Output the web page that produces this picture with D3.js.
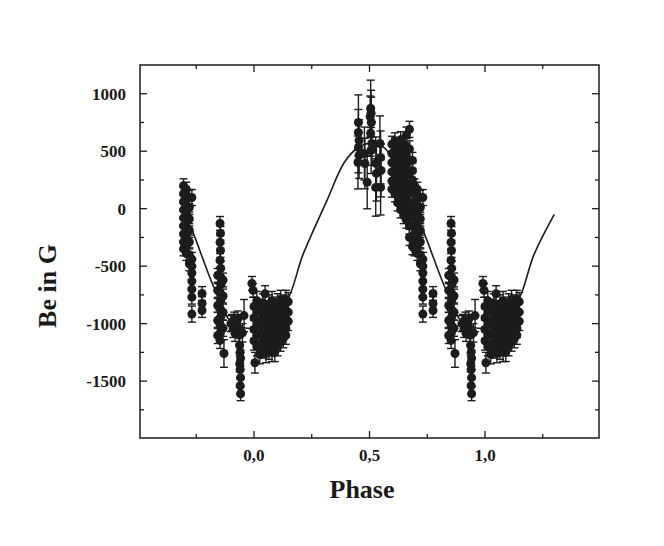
<!DOCTYPE html>
<html>
<head>
<meta charset="utf-8">
<script src="https://cdn.jsdelivr.net/npm/d3@7/dist/d3.min.js"></script>
<style>
  body { margin: 0; background: #fff; }
  svg text { font-family: "Liberation Serif", "Times New Roman", serif; font-weight: bold; fill: #1a1a1a; }
</style>
</head>
<body>
<script>
// Observations: [phase, Be (G), error (G)], phases folded into 0..1
var descBranch = [
  [0.597, 560, 70], [0.597, 480, 70], [0.597, 400, 70], [0.597, 320, 70], [0.597, 240, 70], [0.597, 170, 70],
  [0.61, 590, 70], [0.61, 500, 70], [0.61, 420, 70], [0.61, 330, 70], [0.61, 250, 70], [0.61, 130, 70],
  [0.622, 540, 70], [0.622, 450, 70], [0.622, 370, 70], [0.622, 280, 70], [0.622, 200, 70], [0.622, 110, 70], [0.622, 50, 70],
  [0.635, 600, 70], [0.635, 510, 70], [0.635, 430, 70], [0.635, 340, 70], [0.635, 260, 70], [0.635, 170, 70], [0.635, 80, 70], [0.635, -10, 70],
  [0.648, 560, 70], [0.648, 470, 70], [0.648, 390, 70], [0.648, 300, 70], [0.648, 220, 70], [0.648, 130, 70], [0.648, 40, 70], [0.648, -60, 70],
  [0.66, 640, 70], [0.66, 540, 70], [0.66, 450, 70], [0.66, 360, 70], [0.66, 270, 70], [0.66, 180, 70], [0.66, 90, 70], [0.66, 0, 70], [0.66, -100, 70],
  [0.673, 690, 70], [0.673, 520, 70], [0.673, 420, 70], [0.673, 320, 70], [0.673, 230, 70], [0.673, 140, 70], [0.673, 50, 70], [0.673, -50, 70], [0.673, -150, 70], [0.673, -250, 70],
  [0.686, 420, 70], [0.686, 330, 70], [0.686, 250, 70], [0.686, 150, 70], [0.686, 50, 70], [0.686, -50, 70], [0.686, -150, 70], [0.686, -250, 70], [0.686, -330, 70],
  [0.695, 200, 60], [0.695, 130, 60], [0.695, 60, 60], [0.695, -10, 60], [0.695, -80, 60], [0.695, -150, 60], [0.695, -220, 60], [0.695, -290, 60], [0.695, -350, 60],
  [0.707, 170, 60], [0.707, 100, 60], [0.707, 30, 60], [0.707, -40, 60], [0.707, -110, 60], [0.707, -180, 60], [0.707, -250, 60], [0.707, -320, 60], [0.707, -390, 60],
  [0.72, 100, 60], [0.72, 10, 60], [0.72, -90, 60], [0.72, -190, 60], [0.72, -290, 60], [0.72, -400, 60], [0.72, -480, 60],
  [0.731, 97, 70], [0.731, -440, 60], [0.731, -500, 60], [0.731, -560, 60], [0.731, -630, 60], [0.731, -700, 60], [0.731, -770, 60], [0.731, -917, 70],
  [0.775, -738, 60], [0.775, -825, 60], [0.775, -886, 60]
];

var column085 = [
  [0.853, -128, 60], [0.855, -215, 60], [0.853, -293, 60], [0.855, -363, 60], [0.853, -450, 60], [0.856, -519, 60],
  [0.852, -589, 70], [0.857, -659, 70], [0.853, -728, 70], [0.856, -798, 70], [0.852, -868, 70], [0.857, -937, 70],
  [0.853, -1007, 70], [0.855, -1077, 70], [0.853, -1146, 70], [0.87, -1260, 120],
  [0.843, -580, 60], [0.866, -620, 60], [0.843, -711, 60], [0.866, -760, 60], [0.843, -842, 60],
  [0.866, -900, 70], [0.843, -972, 70], [0.866, -1040, 70], [0.843, -1103, 70]
];

var dip093 = [
  [0.9, -1000, 70], [0.905, -990, 70], [0.91, -1040, 80], [0.915, -970, 70], [0.918, -1085, 70], [0.925, -1000, 80],
  [0.928, -1030, 80], [0.935, -1100, 80], [0.93, -960, 70],
  [0.938, -1190, 70], [0.94, -1250, 70], [0.942, -1300, 70], [0.938, -1350, 70], [0.94, -1400, 70],
  [0.942, -1470, 70], [0.94, -1540, 70], [0.942, -1610, 60], [0.957, -930, 140], [0.95, -1080, 80]
];

var minimumBlob = [
  [0.991, -650, 60], [0.996, -711, 60], [0.048, -740, 70], [0.004, -1340, 90],
  [0.0, -850, 80], [0.0, -950, 80], [0.0, -1050, 80], [0.0, -1150, 80],
  [0.012, -800, 80], [0.012, -900, 80], [0.012, -1000, 80], [0.012, -1100, 80], [0.012, -1200, 80],
  [0.025, -870, 80], [0.025, -980, 80], [0.025, -1080, 80], [0.025, -1180, 80], [0.025, -1270, 80],
  [0.038, -820, 80], [0.038, -920, 80], [0.038, -1020, 80], [0.038, -1120, 80], [0.038, -1220, 80],
  [0.052, -880, 80], [0.052, -980, 80], [0.052, -1080, 80], [0.052, -1180, 80], [0.052, -1260, 80],
  [0.065, -830, 80], [0.065, -930, 80], [0.065, -1030, 80], [0.065, -1130, 80], [0.065, -1230, 80],
  [0.078, -800, 80], [0.078, -900, 80], [0.078, -1000, 80], [0.078, -1100, 80], [0.078, -1200, 80], [0.078, -1250, 80],
  [0.09, -850, 80], [0.09, -950, 80], [0.09, -1050, 80], [0.09, -1150, 80], [0.09, -1250, 80],
  [0.102, -820, 80], [0.102, -920, 80], [0.102, -1020, 80], [0.102, -1120, 80], [0.102, -1200, 80],
  [0.115, -790, 80], [0.115, -890, 80], [0.115, -990, 80], [0.115, -1090, 80], [0.115, -1160, 80],
  [0.127, -830, 80], [0.127, -930, 80], [0.127, -1030, 80], [0.127, -1130, 80],
  [0.138, -790, 80], [0.138, -880, 80], [0.138, -960, 80], [0.138, -1040, 80], [0.138, -1100, 80],
  [0.148, -810, 80], [0.148, -900, 80], [0.148, -980, 80]
];

var peakGroup = [
  [0.452, 750, 240], [0.452, 663, 200], [0.455, 593, 180], [0.452, 532, 220], [0.455, 463, 200], [0.45, 402, 230],
  [0.478, 480, 230], [0.48, 393, 220], [0.49, 229, 230],
  [0.505, 873, 245], [0.507, 830, 200], [0.503, 800, 180], [0.508, 750, 220], [0.505, 656, 200], [0.51, 567, 190], [0.507, 506, 200],
  [0.527, 394, 230], [0.53, 307, 240], [0.527, 185, 250],
  [0.545, 567, 240], [0.548, 446, 230], [0.55, 333, 230], [0.548, 185, 240]
];

// Fitted curve
var fitPhase = [-0.3, -0.268, -0.177, -0.104, -0.03, 0.05, 0.143, 0.212, 0.316, 0.39, 0.45, 0.51, 0.567, 0.6, 0.732, 0.823, 0.896, 0.97, 1.05, 1.143, 1.212, 1.3];
var fitField = [-60, -189, -668, -973, -1040, -1000, -799, -400, 72, 400, 530, 570, 525, 420, -189, -668, -973, -1040, -1000, -799, -400, -50];

// Axis ticks
var xMajor = [0, 0.5, 1];
var xMinor = [-0.25, 0.25, 0.75, 1.25];
var xLabels = ["0,0", "0,5", "1,0"];
var yMajor = [1000, 500, 0, -500, -1000, -1500];
var yMinor = [750, 250, -250, -750, -1250, -1750];

var width = 664, height = 546;
var frame = { left: 140, right: 599, top: 65, bottom: 438 };

var svg = d3.select("body").append("svg")
    .attr("width", width)
    .attr("height", height);

var x = d3.scaleLinear().domain([-0.4935, 1.4935]).range([frame.left, frame.right]);
var y = d3.scaleLinear().domain([-1995, 1250]).range([frame.bottom, frame.top]);

var ink = "#1c1c1c";

// Frame and ticks (inward, on all four sides)
svg.append("rect")
    .attr("x", frame.left).attr("y", frame.top)
    .attr("width", frame.right - frame.left).attr("height", frame.bottom - frame.top)
    .attr("fill", "none").attr("stroke", ink).attr("stroke-width", 1.5);

var ticks = svg.append("g").attr("stroke", ink).attr("stroke-width", 1.3);

function xTicks(values, len) {
    values.forEach(function (v) {
        ticks.append("line").attr("x1", x(v)).attr("x2", x(v)).attr("y1", frame.bottom).attr("y2", frame.bottom - len);
        ticks.append("line").attr("x1", x(v)).attr("x2", x(v)).attr("y1", frame.top).attr("y2", frame.top + len);
    });
}
function yTicks(values, len) {
    values.forEach(function (v) {
        ticks.append("line").attr("y1", y(v)).attr("y2", y(v)).attr("x1", frame.left).attr("x2", frame.left + len);
        ticks.append("line").attr("y1", y(v)).attr("y2", y(v)).attr("x1", frame.right).attr("x2", frame.right - len);
    });
}
xTicks(xMajor, 7); xTicks(xMinor, 4);
yTicks(yMajor, 7); yTicks(yMinor, 4);

svg.append("g").selectAll("text")
    .data(xMajor)
    .enter().append("text")
    .attr("x", function (d) { return x(d); })
    .attr("y", 461)
    .attr("text-anchor", "middle")
    .attr("font-size", 17)
    .text(function (d, i) { return xLabels[i]; });

svg.append("g").selectAll("text")
    .data(yMajor)
    .enter().append("text")
    .attr("x", 126)
    .attr("y", function (d) { return y(d) + 6; })
    .attr("text-anchor", "end")
    .attr("font-size", 17)
    .text(function (d) { return d; });

svg.append("text")
    .attr("x", 362).attr("y", 498)
    .attr("text-anchor", "middle")
    .attr("font-size", 26)
    .text("Phase");

svg.append("text")
    .attr("transform", "translate(56,286) rotate(-90)")
    .attr("text-anchor", "middle")
    .attr("font-size", 26)
    .text("Be in G");

// Fitted curve
var line = d3.line()
    .x(function (d) { return x(d[0]); })
    .y(function (d) { return y(d[1]); })
    .curve(d3.curveCatmullRom);

svg.append("path")
    .datum(fitPhase.map(function (p, i) { return [p, fitField[i]]; }))
    .attr("d", line)
    .attr("fill", "none")
    .attr("stroke", ink)
    .attr("stroke-width", 1.6);

// Each observation is drawn at its phase and repeated one cycle over where it falls in the plotted range
var points = [];
[descBranch, column085, dip093, minimumBlob, peakGroup].forEach(function (group) {
    group.forEach(function (d) {
        [d[0] - 1, d[0], d[0] + 1].forEach(function (p) {
            if (p >= -0.31 && p <= 1.16) points.push({ phase: p, field: d[1], err: d[2] });
        });
    });
});

var obs = svg.append("g");

var bars = obs.selectAll("g.bar")
    .data(points)
    .enter().append("g")
    .attr("class", "bar")
    .attr("stroke", ink)
    .attr("stroke-width", 1.4);

bars.append("line")
    .attr("x1", function (d) { return x(d.phase); })
    .attr("x2", function (d) { return x(d.phase); })
    .attr("y1", function (d) { return y(d.field + d.err); })
    .attr("y2", function (d) { return y(d.field - d.err); });
bars.append("line")
    .attr("x1", function (d) { return x(d.phase) - 4; })
    .attr("x2", function (d) { return x(d.phase) + 4; })
    .attr("y1", function (d) { return y(d.field + d.err); })
    .attr("y2", function (d) { return y(d.field + d.err); });
bars.append("line")
    .attr("x1", function (d) { return x(d.phase) - 4; })
    .attr("x2", function (d) { return x(d.phase) + 4; })
    .attr("y1", function (d) { return y(d.field - d.err); })
    .attr("y2", function (d) { return y(d.field - d.err); });

obs.selectAll("circle")
    .data(points)
    .enter().append("circle")
    .attr("cx", function (d) { return x(d.phase); })
    .attr("cy", function (d) { return y(d.field); })
    .attr("r", 4.5)
    .attr("fill", ink);
</script>
</body>
</html>
